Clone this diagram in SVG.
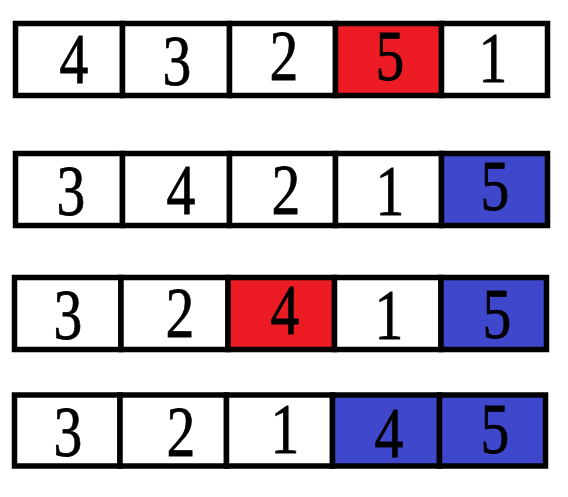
<svg xmlns="http://www.w3.org/2000/svg" width="568" height="497" viewBox="0 0 568 497">
<style>
.c{stroke:#000;stroke-width:5.5;fill:#fff}
.r{fill:#ED1C24}
.b{fill:#3F48CC}
text{font-family:"Liberation Serif","Times New Roman",serif;font-size:72px;fill:#000;stroke:#000;stroke-width:0.8;text-anchor:middle}
</style>
<rect width="568" height="497" fill="#fff"/>
<g id="row1">
<g id="r1c1"><rect class="c" x="15.5" y="23.5" width="107" height="72"/><text transform="translate(74,83) scale(0.8,1)">4</text></g>
<g id="r1c2"><rect class="c" x="122.5" y="23.5" width="107" height="72"/><text transform="translate(177,85) scale(0.8,1)">3</text></g>
<g id="r1c3"><rect class="c" x="229.5" y="23.5" width="106" height="72"/><text transform="translate(284,80) scale(0.8,1)">2</text></g>
<g id="r1c4"><rect class="c r" x="335.5" y="23.5" width="106" height="72"/><text transform="translate(390,80) scale(0.8,1)">5</text></g>
<g id="r1c5"><rect class="c" x="441.5" y="23.5" width="106" height="72"/><text transform="translate(493,82) scale(0.8,1)">1</text></g>
</g>
<g id="row2">
<g id="r2c1"><rect class="c" x="15.5" y="153.5" width="107" height="72"/><text transform="translate(71,215) scale(0.8,1)">3</text></g>
<g id="r2c2"><rect class="c" x="122.5" y="153.5" width="107" height="72"/><text transform="translate(181,214) scale(0.8,1)">4</text></g>
<g id="r2c3"><rect class="c" x="229.5" y="153.5" width="106" height="72"/><text transform="translate(286,214) scale(0.8,1)">2</text></g>
<g id="r2c4"><rect class="c" x="335.5" y="153.5" width="106" height="72"/><text transform="translate(390,215) scale(0.8,1)">1</text></g>
<g id="r2c5"><rect class="c b" x="441.5" y="153.5" width="106" height="72"/><text transform="translate(495,210) scale(0.8,1)">5</text></g>
</g>
<g id="row3">
<g id="r3c1"><rect class="c" x="14.5" y="277.5" width="106.5" height="72"/><text transform="translate(68,339) scale(0.8,1)">3</text></g>
<g id="r3c2"><rect class="c" x="121" y="277.5" width="107" height="72"/><text transform="translate(180,337) scale(0.8,1)">2</text></g>
<g id="r3c3"><rect class="c r" x="228" y="277.5" width="106.5" height="72"/><text transform="translate(285,334) scale(0.8,1)">4</text></g>
<g id="r3c4"><rect class="c" x="334.5" y="277.5" width="106.5" height="72"/><text transform="translate(389,339) scale(0.8,1)">1</text></g>
<g id="r3c5"><rect class="c b" x="441" y="277.5" width="105.5" height="72"/><text transform="translate(497,338) scale(0.8,1)">5</text></g>
</g>
<g id="row4">
<g id="r4c1"><rect class="c" x="14.5" y="395" width="105.5" height="71"/><text transform="translate(68,456) scale(0.8,1)">3</text></g>
<g id="r4c2"><rect class="c" x="120" y="395" width="106.5" height="71"/><text transform="translate(181,456) scale(0.8,1)">2</text></g>
<g id="r4c3"><rect class="c" x="226.5" y="395" width="106" height="71"/><text transform="translate(285,453) scale(0.8,1)">1</text></g>
<g id="r4c4"><rect class="c b" x="332.5" y="395" width="107" height="71"/><text transform="translate(389,457) scale(0.8,1)">4</text></g>
<g id="r4c5"><rect class="c b" x="439.5" y="395" width="106" height="71"/><text transform="translate(495,453) scale(0.8,1)">5</text></g>
</g>
<g id="connectors"></g>
</svg>
